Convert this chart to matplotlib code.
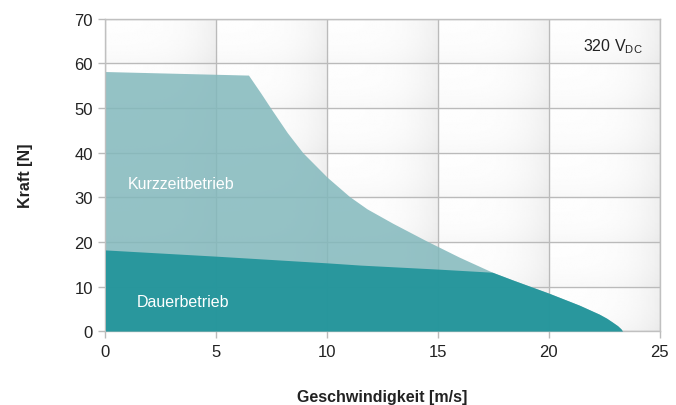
import numpy as np
import matplotlib.pyplot as plt

plt.rcParams['font.family'] = ['Liberation Sans', 'DejaVu Sans']
plt.rcParams['mathtext.fontset'] = 'custom'
plt.rcParams['mathtext.rm'] = 'Liberation Sans'

# ======== Daten ========
kurz_x = [0, 6.45, 7.0, 7.45, 8.2, 8.9, 10.0, 11.0, 11.8, 12.95, 14.45,
          15.95, 17.45, 18.35, 20.0, 21.38, 22.27, 22.6, 22.87, 23.1,
          23.25, 23.32]
kurz_y = [58.2, 57.4, 53.4, 50.0, 44.5, 40.0, 34.5, 30.2, 27.4, 24.2, 20.3,
          16.6, 13.2, 11.5, 8.5, 5.8, 3.8, 2.9, 2.0, 1.2, 0.5, 0.0]

dauer_x = [0, 5, 10, 11.5, 15, 17.45, 18.35, 20.0, 21.38, 22.27, 22.6,
           22.87, 23.1, 23.25, 23.32]
dauer_y = [18.2, 16.8, 15.3, 14.8, 13.9, 13.2, 11.5, 8.5, 5.8, 3.8, 2.9,
           2.0, 1.2, 0.5, 0.0]

x_ticks = [0, 5, 10, 15, 20, 25]
y_ticks = [0, 10, 20, 30, 40, 50, 60, 70]

fig = plt.figure(figsize=(6.76, 4.06), dpi=100)
ax = fig.add_axes([0.156, 0.182, 0.820, 0.769])

# Hintergrund: Kacheln mit leichtem Verlauf
nx, ny = 5, 7
res = 60
u = np.linspace(0, 1, res)
U, V = np.meshgrid(u, u)
tile = 0.993 - 0.055 * U**4 - 0.02 * V**3
bg = np.tile(tile, (ny, nx))
ax.imshow(bg, cmap='gray', vmin=0, vmax=1, extent=[0, 25, 0, 70],
          aspect='auto', zorder=0, interpolation='bilinear')

for xv in x_ticks:
    ax.axvline(xv, color='#bababa', lw=1.0, zorder=1)
for yv in y_ticks:
    ax.axhline(yv, color='#bababa', lw=1.0, zorder=1)

ax.fill_between(kurz_x, kurz_y, 0, color='#82b8bc', alpha=0.85, lw=0, zorder=2)
ax.fill_between(dauer_x, dauer_y, 0, color='#23959b', alpha=0.95, lw=0, zorder=3)

ax.text(1.0, 33, 'Kurzzeitbetrieb', color='white', fontsize=11.5,
        va='center', ha='left', zorder=4)
ax.text(1.4, 6.7, 'Dauerbetrieb', color='white', fontsize=11.5,
        va='center', ha='left', zorder=4)
ax.text(24.25, 64, r'320 V$_{\mathrm{DC}}$', color='#222222', fontsize=11.5,
        va='center', ha='right', zorder=4)

ax.set_xlim(0, 25)
ax.set_ylim(0, 70)
ax.set_xticks(x_ticks)
ax.set_yticks(y_ticks)
ax.tick_params(axis='both', colors='#bbbbbb', labelcolor='#222222',
               labelsize=12, length=5, width=1, pad=4)
for s in ax.spines.values():
    s.set_color('#c0c0c0')
    s.set_linewidth(1.0)

ax.set_xlabel('Geschwindigkeit [m/s]', fontsize=11.5, fontweight='bold',
              color='#222222', labelpad=22)
ax.set_ylabel('Kraft [N]', fontsize=11.5, fontweight='bold',
              color='#222222', labelpad=30)

plt.savefig('out.png', dpi=100)
